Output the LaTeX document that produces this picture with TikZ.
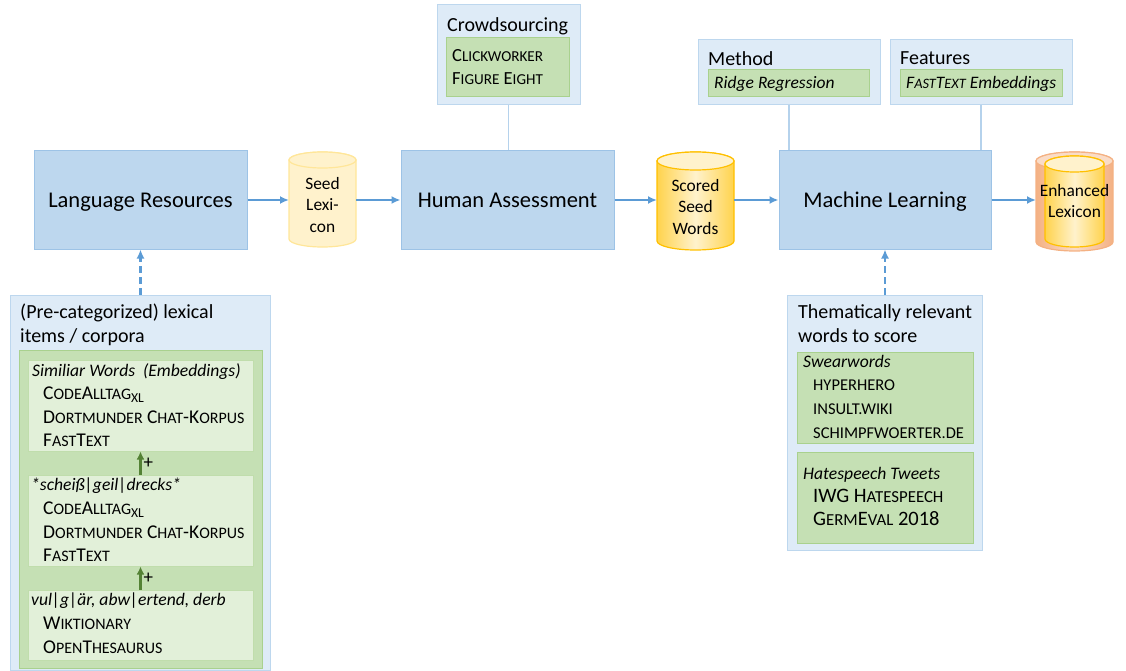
\documentclass[tikz,border=0pt]{standalone}
\usepackage{fontspec}
\setmainfont{Carlito}
\usepackage{graphicx}
\usetikzlibrary{arrows.meta,positioning}

% fake small caps
\newcommand\fsc[1]{\scalebox{.82}{\MakeUppercase{#1}}}

\definecolor{boxblue}{HTML}{BDD7EE}
\definecolor{boxline}{HTML}{9DC3E6}
\definecolor{paleblue}{HTML}{DEEBF7}
\definecolor{midgreen}{HTML}{C5E0B4}
\definecolor{greenline}{HTML}{A9D18E}
\definecolor{palegreen}{HTML}{E2F0D9}
\definecolor{arrblue}{HTML}{5B9BD5}
\definecolor{darkgreen}{HTML}{548235}
\definecolor{cylyellow}{HTML}{FFF2CC}
\definecolor{cylline}{HTML}{FFE699}
\definecolor{gold}{HTML}{FFC000}
\definecolor{lexorange}{HTML}{F4B183}

\tikzset{
  mainbox/.style={draw=boxline,fill=boxblue,line width=1pt,minimum width=213,minimum height=98,text depth=0pt,font=\fontsize{22.5}{26}\selectfont},
  outerbox/.style={draw=boxblue,fill=paleblue,line width=1pt,inner sep=0pt},
  greenbox/.style={draw=greenline,fill=midgreen,line width=1pt,inner sep=0pt},
  lightbox/.style={draw=greenline!60!palegreen,fill=palegreen,line width=1pt,inner sep=0pt},
  headtext/.style={anchor=north west,inner sep=0pt,align=left,font=\fontsize{20}{24}\selectfont},
  smalltitle/.style={anchor=north west,inner sep=0pt,font=\fontsize{17.6}{20}\itshape},
  itemtext/.style={anchor=north west,inner sep=0pt,align=left,font=\fontsize{19.5}{23.5}\selectfont},
  cyltext/.style={align=center,inner sep=0pt,outer sep=0pt,font=\fontsize{17.4}{21.5}\selectfont},
  cylseed/.style={draw=cylline,fill=cylyellow,line width=1.2pt},
  cylgold/.style={draw=gold,line width=1.2pt},
  flowarr/.style={-{Latex[length=9pt,width=8pt]},line width=2.2pt,draw=arrblue},
  dasharr/.style={flowarr,dash pattern=on 7pt off 4pt},
  joinline/.style={line width=1.6pt,draw=boxline!75},
  plusarr/.style={-{Latex[length=8pt,width=8pt]},line width=2.4pt,draw=darkgreen}
}

\begin{document}
\begin{tikzpicture}[x=1pt,y=-1pt]
  \useasboundingbox (0,0) rectangle (1126,671);

  % main row
  \node[mainbox] (lr) at (140.5,200) {Language Resources};
  \node[mainbox] (human) at (507.5,200) {Human Assessment};
  \node[mainbox,minimum width=212] (ml) at (885,200) {Machine Learning};

  % cylinders
  \path[cylseed] (289,160) -- (289,239) arc[start angle=180,end angle=0,x radius=33.5,y radius=8]
    -- (356,160) arc[start angle=0,end angle=-180,x radius=33.5,y radius=8] -- cycle;
  \path[cylseed] (322.5,160) ellipse[x radius=33.5,y radius=8];

  \shadedraw[cylgold,left color=gold!70!white,right color=gold!70!white,middle color=cylyellow]
    (657,161) -- (657,241) arc[start angle=180,end angle=0,x radius=38.5,y radius=9]
    -- (734,161) arc[start angle=0,end angle=-180,x radius=38.5,y radius=9] -- cycle;
  \path[cylgold,fill=cylyellow] (695.5,161) ellipse[x radius=38.5,y radius=9];

  \shadedraw[draw=lexorange,line width=1.2pt,left color=lexorange,right color=lexorange,middle color=lexorange!45!white]
    (1036,161) -- (1036,242) arc[start angle=180,end angle=0,x radius=38.5,y radius=9]
    -- (1113,161) arc[start angle=0,end angle=-180,x radius=38.5,y radius=9] -- cycle;
  \path[draw=lexorange,line width=1.2pt,fill=lexorange!45!white] (1074.5,161) ellipse[x radius=38.5,y radius=9];
  \shadedraw[cylgold,left color=gold!70!white,right color=gold!70!white,middle color=cylyellow]
    (1045,164) -- (1045,239) arc[start angle=180,end angle=0,x radius=29.5,y radius=8]
    -- (1104,164) arc[start angle=0,end angle=-180,x radius=29.5,y radius=8] -- cycle;
  \path[cylgold,fill=cylyellow] (1074.5,164) ellipse[x radius=29.5,y radius=8];

  \node[cyltext,minimum width=67] (seed) at (322.5,205) {Seed\\Lexi-\\con};
  \node[cyltext,minimum width=77] (scored) at (695.5,207) {Scored\\Seed\\Words};
  \node[cyltext,minimum width=77] (enh) at (1074.5,201) {Enhanced\\Lexicon};

  \draw[flowarr] (lr.east) -- (lr.east -| seed.west);
  \draw[flowarr] (seed.east |- human.west) -- (human.west);
  \draw[flowarr] (human.east) -- (human.east -| scored.west);
  \draw[flowarr] (scored.east |- ml.west) -- (ml.west);
  \draw[flowarr] (ml.east) -- (ml.east -| enh.west);

  % crowdsourcing
  \node[outerbox,minimum width=143,minimum height=100] (crowd) at (508.5,55) {};
  \node[headtext] (crowdt) at (447,17) {Crowdsourcing};
  \node[greenbox,minimum width=123,minimum height=59] (crowdg) at (507.5,67.5) {};
  \node[itemtext,font=\fontsize{18.5}{23}\selectfont] (crowdi) at (452,49.5) {C\fsc{lickworker}\\F\fsc{igure} E\fsc{ight}};
  \draw[joinline] (crowd.south) -- (crowd.south |- human.north);

  % method and features
  \node[outerbox,minimum width=182,minimum height=65] (meth) at (789,72.5) {};
  \node[headtext] (metht) at (708,51) {Method};
  \node[greenbox,minimum width=161,minimum height=27] (methg) at (788.5,83.5) {};
  \node[anchor=west,inner sep=0pt,font=\fontsize{17.5}{20}\itshape] (methi) at (714,84) {Ridge Regression};
  \draw[joinline] (meth.south) -- (meth.south |- ml.north);

  \node[outerbox,minimum width=182,minimum height=65] (feat) at (981,72.5) {};
  \node[headtext] (featt) at (900,51) {Features};
  \node[greenbox,minimum width=162,minimum height=27] (featg) at (981,83.5) {};
  \node[anchor=west,inner sep=0pt,font=\fontsize{17.5}{20}\itshape] (feati) at (906,84) {F\fsc{ast}T\fsc{ext} Embeddings};
  \draw[joinline] (feat.south) -- (feat.south |- ml.north);

  % lexical items / corpora
  \node[outerbox,minimum width=260,minimum height=375] (lexi) at (140.5,482.5) {};
  \node[headtext] (lexit) at (20,304) {(Pre-categorized) lexical\\items / corpora};
  \node[greenbox,minimum width=243,minimum height=318] (lexig) at (140.5,509) {};
  \node[lightbox,minimum width=225,minimum height=91] (emb) at (140.5,405.5) {};
  \node[smalltitle] (embt) at (32,363) {Similiar Words\ \ (Embeddings)};
  \node[itemtext] (embi) at (43,387) {C\fsc{ode}A\fsc{lltag}\textsubscript{XL}\\D\fsc{ortmunder} C\fsc{hat}-K\fsc{orpus}\\F\fsc{ast}T\fsc{ext}};
  \node[lightbox,minimum width=225,minimum height=91] (pat) at (140.5,520.5) {};
  \node[smalltitle] (patt) at (31,478) {*scheiß|geil|drecks*};
  \node[itemtext] (pati) at (43,502) {C\fsc{ode}A\fsc{lltag}\textsubscript{XL}\\D\fsc{ortmunder} C\fsc{hat}-K\fsc{orpus}\\F\fsc{ast}T\fsc{ext}};
  \node[lightbox,minimum width=225,minimum height=70] (dict) at (140.5,625) {};
  \node[smalltitle] (dictt) at (31,593) {vul|g|är, abw|ertend, derb};
  \node[itemtext] (dicti) at (43,617) {W\fsc{iktionary}\\O\fsc{pen}T\fsc{hesaurus}};
  \draw[plusarr] (pat.north) -- (emb.south) node[midway,right,inner sep=2pt,font=\fontsize{19}{20}\selectfont] {+};
  \draw[plusarr] (dict.north) -- (pat.south) node[midway,right,inner sep=2pt,font=\fontsize{19}{20}\selectfont] {+};
  \draw[dasharr] (lexi.north) -- (lr.south);

  % words to score
  \node[outerbox,minimum width=195,minimum height=255] (theme) at (885,422.5) {};
  \node[headtext] (themet) at (798,304) {Thematically relevant\\words to score};
  \node[greenbox,minimum width=176,minimum height=91] (swear) at (885,397.5) {};
  \node[smalltitle] (sweart) at (803,355) {Swearwords};
  \node[itemtext,font=\fontsize{16.5}{24}\selectfont] (sweari) at (813,380) {HYPERHERO\\INSULT.WIKI\\SCHIMPFWOERTER.DE};
  \node[greenbox,minimum width=176,minimum height=91] (tweet) at (885,497.5) {};
  \node[smalltitle] (tweett) at (803,467) {Hatespeech Tweets};
  \node[itemtext,font=\fontsize{20.5}{23}\selectfont] (tweeti) at (813,489) {IWG H\fsc{atespeech}\\G\fsc{erm}E\fsc{val} 2018};
  \draw[dasharr] (theme.north) -- (ml.south);
\end{tikzpicture}
\end{document}
